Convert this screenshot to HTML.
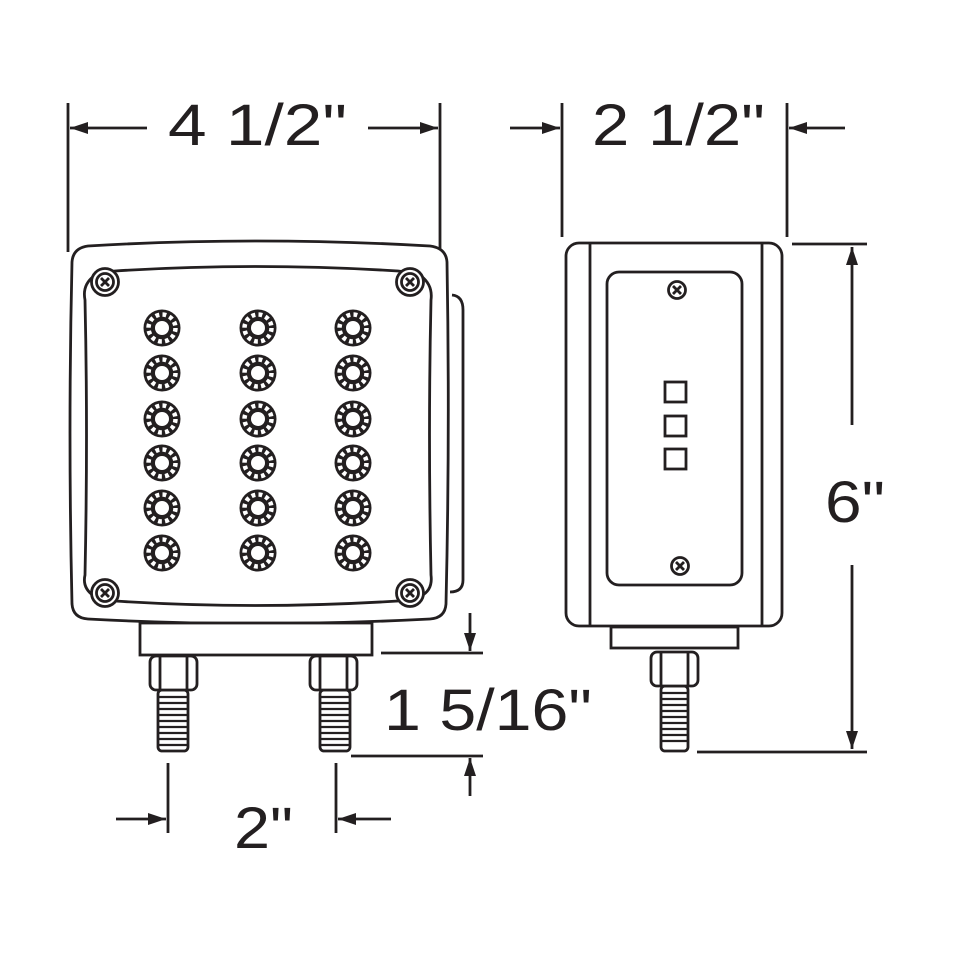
<!DOCTYPE html>
<html><head><style>html,body{margin:0;padding:0;background:#fff}svg{display:block}</style></head>
<body>
<svg width="955" height="955" viewBox="0 0 955 955" xmlns="http://www.w3.org/2000/svg">
<defs>
<marker id="ah" viewBox="0 0 18 12" refX="18" refY="6" markerWidth="18" markerHeight="12" markerUnits="userSpaceOnUse" orient="auto"><path d="M0,0 L18,6 L0,12 z" fill="#231f20"/></marker>
<g id="led">
<circle r="18.5" fill="#231f20"/>
<circle r="13.5" fill="none" stroke="#fff" stroke-width="4.5" stroke-dasharray="3.8 3.3"/>
<circle r="7" fill="#fff"/>
</g>
<g id="scr">
<circle r="8.5" fill="#fff" stroke="#231f20" stroke-width="2.8"/>
<path d="M-4,-4 L4,4 M4,-4 L-4,4" stroke="#231f20" stroke-width="2.8"/>
</g>
<g id="nut">
<rect x="0" y="0" width="47" height="34" rx="6" fill="#fff" stroke="#231f20" stroke-width="2.8"/>
<line x1="10" y1="0" x2="10" y2="34" stroke="#231f20" stroke-width="2.8"/>
<line x1="37" y1="0" x2="37" y2="34" stroke="#231f20" stroke-width="2.8"/>
</g>
</defs>
<g fill="none" stroke="#231f20" stroke-width="2.8">
<path d="M452,295 Q463,296 463,310 L463,580 Q463,592 450,592"/>
<path d="M88,246 Q255,236 430,246 Q446,248 447,262 Q450,433 446,604 Q445,618 430,619 Q255,628 88,619 Q73,618 72,604 Q68,433 72,262 Q73,248 88,246 Z" fill="#fff"/>
<path d="M115,271 Q255,262 398,271 Q410,272 421,276 Q433,285 431,300 Q428,433 431,575 Q433,590 421,596 Q410,600 398,601 Q255,610 115,601 Q103,600 94,596 Q82,588 85,575 Q88,433 85,300 Q82,285 94,276 Q103,272 115,271 Z"/>
<rect x="140" y="623" width="232" height="32" fill="#fff"/>
<rect x="158" y="690" width="30" height="61" rx="4" fill="#fff"/>
<rect x="320" y="690" width="30" height="61" rx="4" fill="#fff"/>
<rect x="566" y="243" width="216" height="383" rx="13" fill="#fff"/>
<line x1="590" y1="243" x2="590" y2="626"/>
<line x1="762" y1="243" x2="762" y2="626"/>
<rect x="607" y="272" width="135" height="313" rx="12"/>
<rect x="665" y="382" width="21" height="20"/>
<rect x="665" y="416" width="21" height="20"/>
<rect x="665" y="449" width="21" height="20"/>
<rect x="611" y="627" width="127" height="21" fill="#fff"/>
<rect x="661" y="686" width="27" height="65" rx="4" fill="#fff"/>
</g>
<g stroke="#231f20" stroke-width="2.2">
<path d="M158,697h30M158,703h30M158,709h30M158,715h30M158,721h30M158,727h30M158,733h30M158,739h30M158,745h30"/>
<path d="M320,697h30M320,703h30M320,709h30M320,715h30M320,721h30M320,727h30M320,733h30M320,739h30M320,745h30"/>
<path d="M661,693h27M661,699h27M661,705h27M661,711h27M661,717h27M661,723h27M661,729h27M661,735h27M661,741h27"/>
</g>
<use href="#nut" x="150" y="656"/>
<use href="#nut" x="310" y="656"/>
<use href="#nut" x="651" y="652"/>
<g stroke="#231f20" stroke-width="2.8" fill="#fff">
<circle cx="105" cy="282" r="13.5"/><circle cx="410" cy="282" r="13.5"/><circle cx="105" cy="593" r="13.5"/><circle cx="410" cy="593" r="13.5"/>
</g>
<use href="#scr" x="105" y="282"/><use href="#scr" x="410" y="282"/><use href="#scr" x="105" y="593"/><use href="#scr" x="410" y="593"/>
<use href="#scr" x="677" y="290"/><use href="#scr" x="680" y="566"/>
<g>
<use href="#led" x="162" y="328"/><use href="#led" x="258" y="328"/><use href="#led" x="353" y="328"/>
<use href="#led" x="162" y="373"/><use href="#led" x="258" y="373"/><use href="#led" x="353" y="373"/>
<use href="#led" x="162" y="419"/><use href="#led" x="258" y="419"/><use href="#led" x="353" y="419"/>
<use href="#led" x="162" y="463"/><use href="#led" x="258" y="463"/><use href="#led" x="353" y="463"/>
<use href="#led" x="162" y="508"/><use href="#led" x="258" y="508"/><use href="#led" x="353" y="508"/>
<use href="#led" x="162" y="553"/><use href="#led" x="258" y="553"/><use href="#led" x="353" y="553"/>
</g>
<g stroke="#231f20" stroke-width="2.8" fill="none">
<line x1="68" y1="103" x2="68" y2="252"/><line x1="440" y1="103" x2="440" y2="250"/>
<line x1="147" y1="128" x2="70" y2="128" marker-end="url(#ah)"/>
<line x1="368" y1="128" x2="438" y2="128" marker-end="url(#ah)"/>
<line x1="562" y1="103" x2="562" y2="237"/><line x1="787" y1="103" x2="787" y2="237"/>
<line x1="510" y1="128" x2="560" y2="128" marker-end="url(#ah)"/>
<line x1="845" y1="128" x2="789" y2="128" marker-end="url(#ah)"/>
<line x1="792" y1="244" x2="867" y2="244"/><line x1="697" y1="752" x2="867" y2="752"/>
<line x1="852" y1="425" x2="852" y2="247" marker-end="url(#ah)"/>
<line x1="852" y1="565" x2="852" y2="749" marker-end="url(#ah)"/>
<line x1="381" y1="653" x2="483" y2="653"/><line x1="351" y1="756" x2="483" y2="756"/>
<line x1="470" y1="613" x2="470" y2="651" marker-end="url(#ah)"/>
<line x1="470" y1="796" x2="470" y2="758" marker-end="url(#ah)"/>
<line x1="168" y1="763" x2="168" y2="833"/><line x1="336" y1="763" x2="336" y2="833"/>
<line x1="116" y1="819" x2="166" y2="819" marker-end="url(#ah)"/>
<line x1="391" y1="819" x2="338" y2="819" marker-end="url(#ah)"/>
</g>
<g font-family="Liberation Sans, Arial, sans-serif" font-size="58" fill="#231f20">
<text x="168" y="145" textLength="179" lengthAdjust="spacingAndGlyphs">4 1/2"</text>
<text x="592" y="145" textLength="173" lengthAdjust="spacingAndGlyphs">2 1/2"</text>
<text x="825" y="522" textLength="60" lengthAdjust="spacingAndGlyphs">6"</text>
<text x="384" y="730" textLength="208" lengthAdjust="spacingAndGlyphs">1 5/16"</text>
<text x="234" y="848" textLength="59" lengthAdjust="spacingAndGlyphs">2"</text>
</g>
</svg>
</body></html>
